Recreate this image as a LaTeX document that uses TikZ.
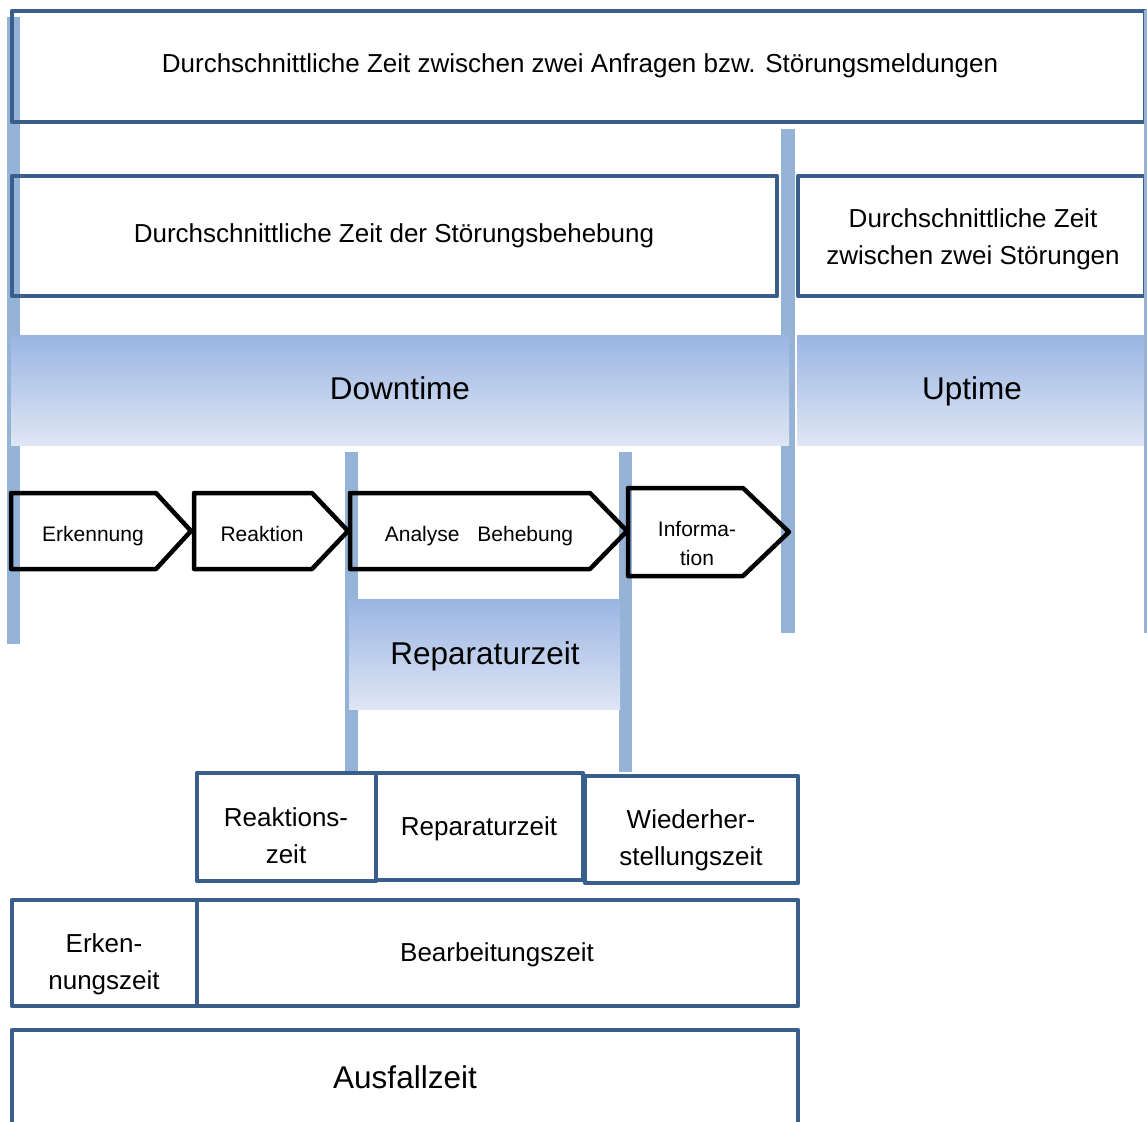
\documentclass[tikz,border=0pt]{standalone}
\usepackage{fontspec}
\setmainfont{Liberation Sans}
\begin{document}
\begin{tikzpicture}[x=1pt,y=-1pt,
  bar/.style={fill=barblue,draw=none},
  grad/.style={top color=gradtop,bottom color=gradbot,draw=none},
  frame/.style={draw=frameblue,line width=4.5pt,line join=round},
  chev/.style={draw=black,line width=4.5pt,line join=round},
  txt/.style={align=center,inner sep=0pt,font=\fontsize{26}{37}\selectfont},
  bigtxt/.style={align=center,inner sep=0pt,font=\fontsize{31.5}{40}\selectfont},
  smalltxt/.style={align=center,inner sep=0pt,font=\fontsize{21}{29}\selectfont},
  onetxt/.style={txt,text height=18.7pt,text depth=5.5pt},
  onebig/.style={bigtxt,text height=22.7pt,text depth=6.6pt},
  onesmall/.style={smalltxt,text height=15.1pt,text depth=4.4pt}]
\definecolor{barblue}{HTML}{95B3D7}
\definecolor{frameblue}{HTML}{3A5E8C}
\definecolor{gradtop}{HTML}{9AB5E3}
\definecolor{gradbot}{HTML}{DFE6F4}
\clip (0,0) rectangle (1147,1121);
\fill[white] (0,0) rectangle (1147,1121);

% vertical time markers
\fill[bar] (7,17) rectangle (20,644);
\fill[bar] (781,129) rectangle (795,633);
\fill[bar] (345,452) rectangle (358,772);
\fill[bar] (619,452) rectangle (632,772);

% shaded phase bands
\fill[grad] (11,335) rectangle (789,445);
\fill[grad] (797,335) rectangle (1147,445);
\fill[grad] (349,599) rectangle (620,709);

% framed boxes of the upper rows
\draw[frame] (12,11) rectangle (1145,122);
\draw[frame] (12,176) rectangle (777,296);
\draw[frame] (798,176) rectangle (1145,296);
\fill[bar] (1144,10) rectangle (1157,633);

% framed boxes of the lower rows
\draw[frame] (197,773) rectangle (376,881);
\draw[frame] (376,773) rectangle (583,880);
\draw[frame] (585,776) rectangle (798,883);
\draw[frame] (12,900) rectangle (197,1006);
\draw[frame] (197,900) rectangle (798,1006);
\draw[frame] (12,1030) rectangle (798,1140);

% process steps
\draw[chev] (11,493) -- (156,493) -- (191,531) -- (156,569) -- (11,569) -- cycle;
\draw[chev] (194,493) -- (312,493) -- (348,531) -- (312,569) -- (194,569) -- cycle;
\draw[chev] (350,493) -- (590,493) -- (627,531) -- (590,569) -- (350,569) -- cycle;
\draw[chev] (628,488) -- (743,488) -- (789,532) -- (743,576) -- (628,576) -- cycle;

% labels
\node[onetxt] (mtbf) at (580,66) {Durchschnittliche Zeit zwischen zwei Anfragen bzw. Störungsmeldungen};
\node[onetxt] (mttr) at (394,236) {Durchschnittliche Zeit der Störungsbehebung};
\node[txt] (mtbs) at (973,239) {Durchschnittliche Zeit\\zwischen zwei Störungen};
\node[onebig] (down) at (400,391) {Downtime};
\node[onebig] (up) at (972,391) {Uptime};
\node[onesmall] (erk) at (93,536) {Erkennung};
\node[onesmall] (rea) at (262,536) {Reaktion};
\node[onesmall] (ana) at (479,536) {Analyse\hspace{0.85em}Behebung};
\node[smalltxt] (inf) at (697,543) {Informa-\\tion};
\node[onebig] (rep) at (485,656) {Reparaturzeit};
\node[txt] (reaz) at (286,836) {Reaktions-\\zeit};
\node[onetxt] (repz) at (479,829) {Reparaturzeit};
\node[txt] (wdh) at (691,840) {Wiederher-\\stellungszeit};
\node[txt] (erkz) at (104,964) {Erken-\\nungszeit};
\node[onetxt] (bear) at (497,955) {Bearbeitungszeit};
\node[onebig] (aus) at (405,1080) {Ausfallzeit};
\end{tikzpicture}
\end{document}
